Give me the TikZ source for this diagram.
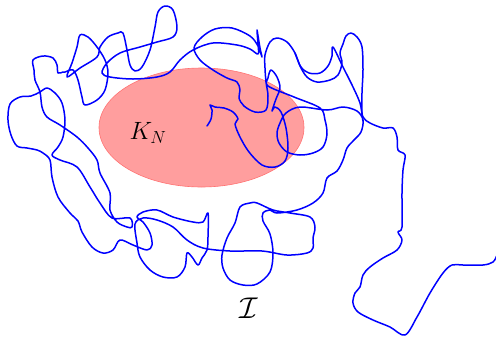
\documentclass[tikz,border=0pt]{standalone}
\usepackage{fix-cm}
\usepackage{amsmath,amssymb}
\usepackage{tikz}
\usetikzlibrary{positioning}

\begin{document}
\begin{tikzpicture}[x=1pt,y=-1pt]
\tikzstyle{walk}=[draw=blue,line width=1.5pt,line join=round,line cap=round]
\tikzstyle{region}=[fill=red!38,draw=red!55,line width=0.6pt]
\tikzstyle{lbl}=[font=\fontsize{25}{30}\selectfont,inner sep=0pt]
\useasboundingbox (0,0) rectangle (496,341);
\path[region] (201.5,127.5) ellipse [x radius=102.5, y radius=59.5];
\node[lbl] (kn) at (148,133) {$K_N$};
\node[lbl,font=\fontsize{30}{36}\selectfont] (iset) at (249,308) {$\mathcal{I}$};
% main part of the walk
\draw[walk] plot[smooth,tension=0.55] coordinates {
 (207,126) (211,119) (212,110) (210,105) (215,107) (224,108) (233,112) (238,119) (235,124)
 (240,137) (249,152) (262,165) (275,167) (285,161) (288,148) (286,128) (281,112) (275,107)
 (272,111) (276,99) (280,88) (277,77) (271,70) (268,78) (268,86) (294,97) (320,108)
 (325,120) (327,134) (323,147) (313,153) (300,155) (287,152) (279,143) (277,133) (280,123)
 (286,113) (300,107) (327,110) (343,107) (357,111) (363,120) (361,132) (354,140) (347,148)
 (343,160) (337,171) (327,178) (323,193) (313,203) (297,210) (277,213) (270,210) (263,213)
 (263,221) (270,234) (273,253) (270,272) (257,284) (243,285) (230,280) (223,268) (222,255)
 (227,238) (235,223) (240,207) (250,203) (257,203) (273,210) (290,213) (310,217) (315,227)
 (313,238) (313,248) (307,253) (287,255) (262,251) (230,251) (203,248) (187,240) (173,227)
 (157,220) (143,218) (135,224) (137,243) (140,257) (150,270) (163,277) (177,277) (185,267)
 (187,253) (192,257) (198,265) (202,258) (207,250) (208,237) (208,213) (203,222) (193,222)
 (173,217) (157,210) (143,212) (137,217) (143,222) (150,233) (152,245) (147,250) (133,245)
 (120,240) (113,250) (103,253) (92,247) (82,232) (78,221) (70,213) (58,197) (52,177)
 (50,160) (43,153) (37,150) (27,148) (17,146) (11,135) (8,120) (10,104) (20,97) (31,96)
 (40,92) (47,88) (55,93) (62,103) (65,120) (63,137) (58,147) (52,155) (60,160) (77,167)
 (90,187) (100,203) (112,218) (130,218) (132,227) (127,227) (117,222) (110,210) (110,193)
 (100,173) (97,160) (88,148) (77,137) (60,125) (47,117) (42,107) (40,92) (35,80) (34,70)
 (33,60) (43,56) (53,58) (57,65) (58,73) (63,72) (65,72) (73,70) (78,80) (82,97) (85,105)
 (97,100) (105,90) (108,73) (105,60) (97,47) (88,37) (80,35) (77,47) (72,63) (67,77)
 (80,68) (97,57) (100,47) (108,37) (118,33) (123,33) (127,50) (130,65) (135,71) (142,67)
 (150,50) (155,27) (158,12) (165,6) (173,10) (177,27) (173,37) (157,42) (140,47) (120,53)
 (107,63) (102,73) (110,77) (133,79) (157,77) (170,72) (180,60) (193,50) (213,43) (237,45)
 (250,49) (258,54) (258,44) (257,30) (260,48) (262,57) (258,46) (250,36) (232,28) (215,29)
 (202,37) (194,48) (200,60) (213,70) (227,78) (237,82) (240,90) (239,98) (244,106) (255,112)
 (266,110) (268,96) (266,82) (265,68) (265,55) (270,42) (277,38) (287,42) (295,53) (300,66)
 (307,77) (317,82) (330,80) (338,75) (342,63) (340,53) (343,44) (346,36) (351,33) (357,37)
 (362,47) (363,70) (362,93) (362,113) (363,121)
};
% the arc over the top and the long tail
\draw[walk] plot[smooth,tension=0.55] coordinates {
 (295,53) (301,67) (309,73) (320,73) (328,66) (332,56) (333,47) (343,67) (353,87) (360,103)
 (363,117) (370,123) (383,128) (393,128) (397,137) (398,150) (405,155) (403,170) (402,193)
 (402,227) (398,232) (402,240) (397,250) (383,258) (370,267) (363,275) (360,287) (355,293)
 (353,303) (358,312) (373,320) (390,327) (405,335) (417,317) (430,293) (443,273) (452,265)
 (463,265) (483,265) (493,262) (497,255)
};
\end{tikzpicture}
\end{document}
